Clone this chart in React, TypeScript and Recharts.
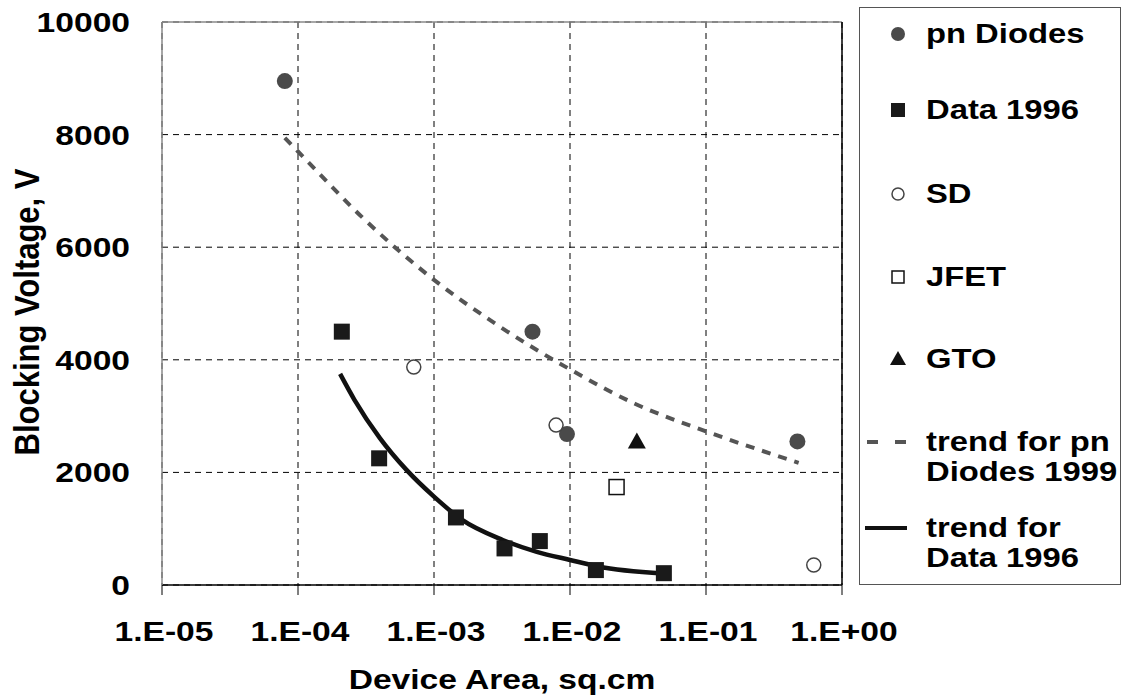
import {
  ComposedChart,
  Scatter,
  Line,
  XAxis,
  YAxis,
  CartesianGrid,
  ReferenceLine,
  Legend,
} from "recharts";

// device area (sq.cm) and blocking voltage (V) per device family
const pnDiodeArea = [8e-5, 5.3e-3, 9.5e-3, 0.47];
const pnDiodeVoltage = [8950, 4500, 2680, 2550];

const data1996Area = [2.1e-4, 3.95e-4, 1.45e-3, 3.3e-3, 6.0e-3, 1.55e-2, 4.9e-2];
const data1996Voltage = [4500, 2250, 1200, 650, 780, 265, 210];

const sdArea = [7.1e-4, 7.9e-3, 0.62];
const sdVoltage = [3870, 2840, 355];

const jfetArea = [2.2e-2];
const jfetVoltage = [1740];

const gtoArea = [3.1e-2];
const gtoVoltage = [2550];

// trend curves
const pnTrendArea = [8e-5, 1e-4, 3e-4, 1e-3, 3e-3, 1e-2, 3e-2, 1e-1, 0.48];
const pnTrendVoltage = [7940, 7700, 6520, 5420, 4600, 3830, 3220, 2730, 2170];

const d96TrendArea = [2.04e-4, 2.6e-4, 4e-4, 6.3e-4, 1e-3, 1.6e-3, 3.2e-3, 5.7e-3, 1e-2, 1.6e-2, 4.8e-2];
const d96TrendVoltage = [3750, 3290, 2610, 2040, 1570, 1160, 800, 590, 445, 330, 205];

const xTicks = [1e-5, 1e-4, 1e-3, 1e-2, 1e-1, 1];
const yTicks = [0, 2000, 4000, 6000, 8000, 10000];

const legendNames = [
  "pn Diodes",
  "Data 1996",
  "SD",
  "JFET",
  "GTO",
  "trend for pn\nDiodes 1999",
  "trend for\nData 1996",
];

const zip = (area: number[], voltage: number[]) =>
  area.map((a, i) => ({ area: a, voltage: voltage[i] }));

const FONT = '"Liberation Sans", Arial, Helvetica, sans-serif';
const SX = 1.2;

const fmtArea = (v: number) => {
  const e = Math.round(Math.log10(v));
  return `1.E${e < 0 ? "-" : "+"}${String(Math.abs(e)).padStart(2, "0")}`;
};

const WideText = ({ x, y, anchor, children }: any) => (
  <text
    x={x}
    y={y}
    textAnchor={anchor}
    transform={`translate(${x} ${y}) scale(${SX} 1) translate(${-x} ${-y})`}
    fontFamily={FONT}
    fontWeight="bold"
    fontSize={28}
    fill="#000"
  >
    {children}
  </text>
);

const XTick = (props: any) => (
  <WideText x={props.x + 2} y={props.y + 46} anchor="middle">
    {fmtArea(props.payload.value)}
  </WideText>
);

const YTick = (props: any) => (
  <WideText x={props.x} y={props.y + 10} anchor="end">
    {props.payload.value}
  </WideText>
);

const YTitle = () => (
  <text
    transform={`translate(27 312) scale(1.15 1) rotate(-90)`}
    textAnchor="middle"
    dominantBaseline="central"
    fontFamily={FONT}
    fontWeight="bold"
    fontSize={31}
    fill="#000"
  >
    Blocking Voltage, V
  </text>
);

const XTitle = () => (
  <WideText x={502} y={689} anchor="middle">
    Device Area, sq.cm
  </WideText>
);

// markers
const pnDot = (p: any) => <circle cx={p.cx} cy={p.cy} r={8} fill="#4a4a4a" />;
const d96Square = (p: any) => (
  <rect x={p.cx - 8} y={p.cy - 8} width={16} height={16} fill="#1a1a1a" />
);
const sdCircle = (p: any) => (
  <circle cx={p.cx} cy={p.cy} r={7} fill="#fff" stroke="#444" strokeWidth={1.5} />
);
const jfetSquare = (p: any) => (
  <rect x={p.cx - 7.5} y={p.cy - 7.5} width={15} height={15} fill="#fff" stroke="#111" strokeWidth={1.5} />
);
const gtoTriangle = (p: any) => (
  <polygon
    points={`${p.cx},${p.cy - 9} ${p.cx - 9},${p.cy + 7} ${p.cx + 9},${p.cy + 7}`}
    fill="#111"
  />
);

// legend rows (centre y inside the box)
const rowY = [26, 102, 186, 269, 351, 434, 520];

const legendMarker = (i: number, cy: number) => {
  const cx = 38;
  switch (i) {
    case 0:
      return <circle cx={cx} cy={cy} r={7} fill="#4a4a4a" />;
    case 1:
      return <rect x={cx - 7} y={cy - 7} width={14} height={14} fill="#1a1a1a" />;
    case 2:
      return <circle cx={cx} cy={cy} r={6} fill="#fff" stroke="#444" strokeWidth={1.5} />;
    case 3:
      return <rect x={cx - 6} y={cy - 6} width={12} height={12} fill="#fff" stroke="#111" strokeWidth={1.5} />;
    case 4:
      return <polygon points={`${cx},${cy - 8} ${cx - 8},${cy + 6} ${cx + 8},${cy + 6}`} fill="#111" />;
    case 5:
      return (
        <line x1={7} x2={47} y1={cy} y2={cy} stroke="#555" strokeWidth={4} strokeDasharray="11 17" />
      );
    default:
      return <line x1={5} x2={47} y1={cy} y2={cy} stroke="#111" strokeWidth={4} />;
  }
};

const LegendBox = () => (
  <div
    style={{
      position: "relative",
      width: 262,
      height: 578,
      border: "1.5px solid #555",
      boxSizing: "border-box",
      background: "#fff",
      overflow: "hidden",
    }}
  >
    <svg width={262} height={578} style={{ position: "absolute", left: 0, top: 0 }}>
      {legendNames.map((_, i) => (
        <g key={i}>{legendMarker(i, rowY[i])}</g>
      ))}
    </svg>
    {legendNames.map((name, i) =>
      name.split("\n").map((line, j) => (
        <div
          key={`${i}-${j}`}
          style={{
            position: "absolute",
            left: 66,
            top: rowY[i] - 15 + j * 30,
            height: 30,
            lineHeight: "30px",
            fontFamily: FONT,
            fontWeight: "bold",
            fontSize: 28,
            color: "#000",
            whiteSpace: "nowrap",
            transform: "scaleX(1.17)",
            transformOrigin: "left center",
          }}
        >
          {line}
        </div>
      ))
    )}
  </div>
);

export default function App() {
  return (
    <div style={{ width: 1124, height: 696, background: "#fff" }}>
      <style>{`body{margin:0;background:#fff}`}</style>
      <ComposedChart
        width={1124}
        height={696}
        margin={{ top: 22, right: 282, bottom: 0, left: 0 }}
      >
        <CartesianGrid stroke="#000" strokeDasharray="6 5" strokeWidth={1} />
        <XAxis
          dataKey="area"
          type="number"
          scale="log"
          domain={[1e-5, 1]}
          allowDataOverflow
          ticks={xTicks}
          interval={0}
          height={111}
          tickSize={10}
          tickMargin={0}
          tick={<XTick />}
          stroke="#000"
          axisLine={{ stroke: "#000", strokeWidth: 1.5 }}
          tickLine={{ stroke: "#000", strokeWidth: 1 }}
          label={<XTitle />}
        />
        <YAxis
          dataKey="voltage"
          type="number"
          domain={[0, 10000]}
          ticks={yTicks}
          interval={0}
          width={162}
          tickSize={0}
          tickMargin={32}
          tickLine={false}
          tick={<YTick />}
          axisLine={{ stroke: "#8a8a8a", strokeWidth: 1.5 }}
          label={<YTitle />}
        />
        <ReferenceLine y={10000} stroke="#8a8a8a" strokeWidth={1.5} />
        <ReferenceLine x={1} stroke="#000" strokeWidth={1.5} />
        <Line
          data={zip(pnTrendArea, pnTrendVoltage)}
          dataKey="voltage"
          type="monotone"
          stroke="#555"
          strokeWidth={4}
          strokeDasharray="9 8"
          dot={false}
          activeDot={false}
          isAnimationActive={false}
        />
        <Line
          data={zip(d96TrendArea, d96TrendVoltage)}
          dataKey="voltage"
          type="monotone"
          stroke="#111"
          strokeWidth={4.5}
          dot={false}
          activeDot={false}
          isAnimationActive={false}
        />
        <Scatter data={zip(pnDiodeArea, pnDiodeVoltage)} shape={pnDot} isAnimationActive={false} />
        <Scatter data={zip(data1996Area, data1996Voltage)} shape={d96Square} isAnimationActive={false} />
        <Scatter data={zip(sdArea, sdVoltage)} shape={sdCircle} isAnimationActive={false} />
        <Scatter data={zip(jfetArea, jfetVoltage)} shape={jfetSquare} isAnimationActive={false} />
        <Scatter data={zip(gtoArea, gtoVoltage)} shape={gtoTriangle} isAnimationActive={false} />
        <Legend
          layout="horizontal"
          align="center"
          verticalAlign="middle"
          content={<LegendBox />}
          wrapperStyle={{ left: 859, top: 7, width: 262, height: 578 }}
        />
      </ComposedChart>
    </div>
  );
}
